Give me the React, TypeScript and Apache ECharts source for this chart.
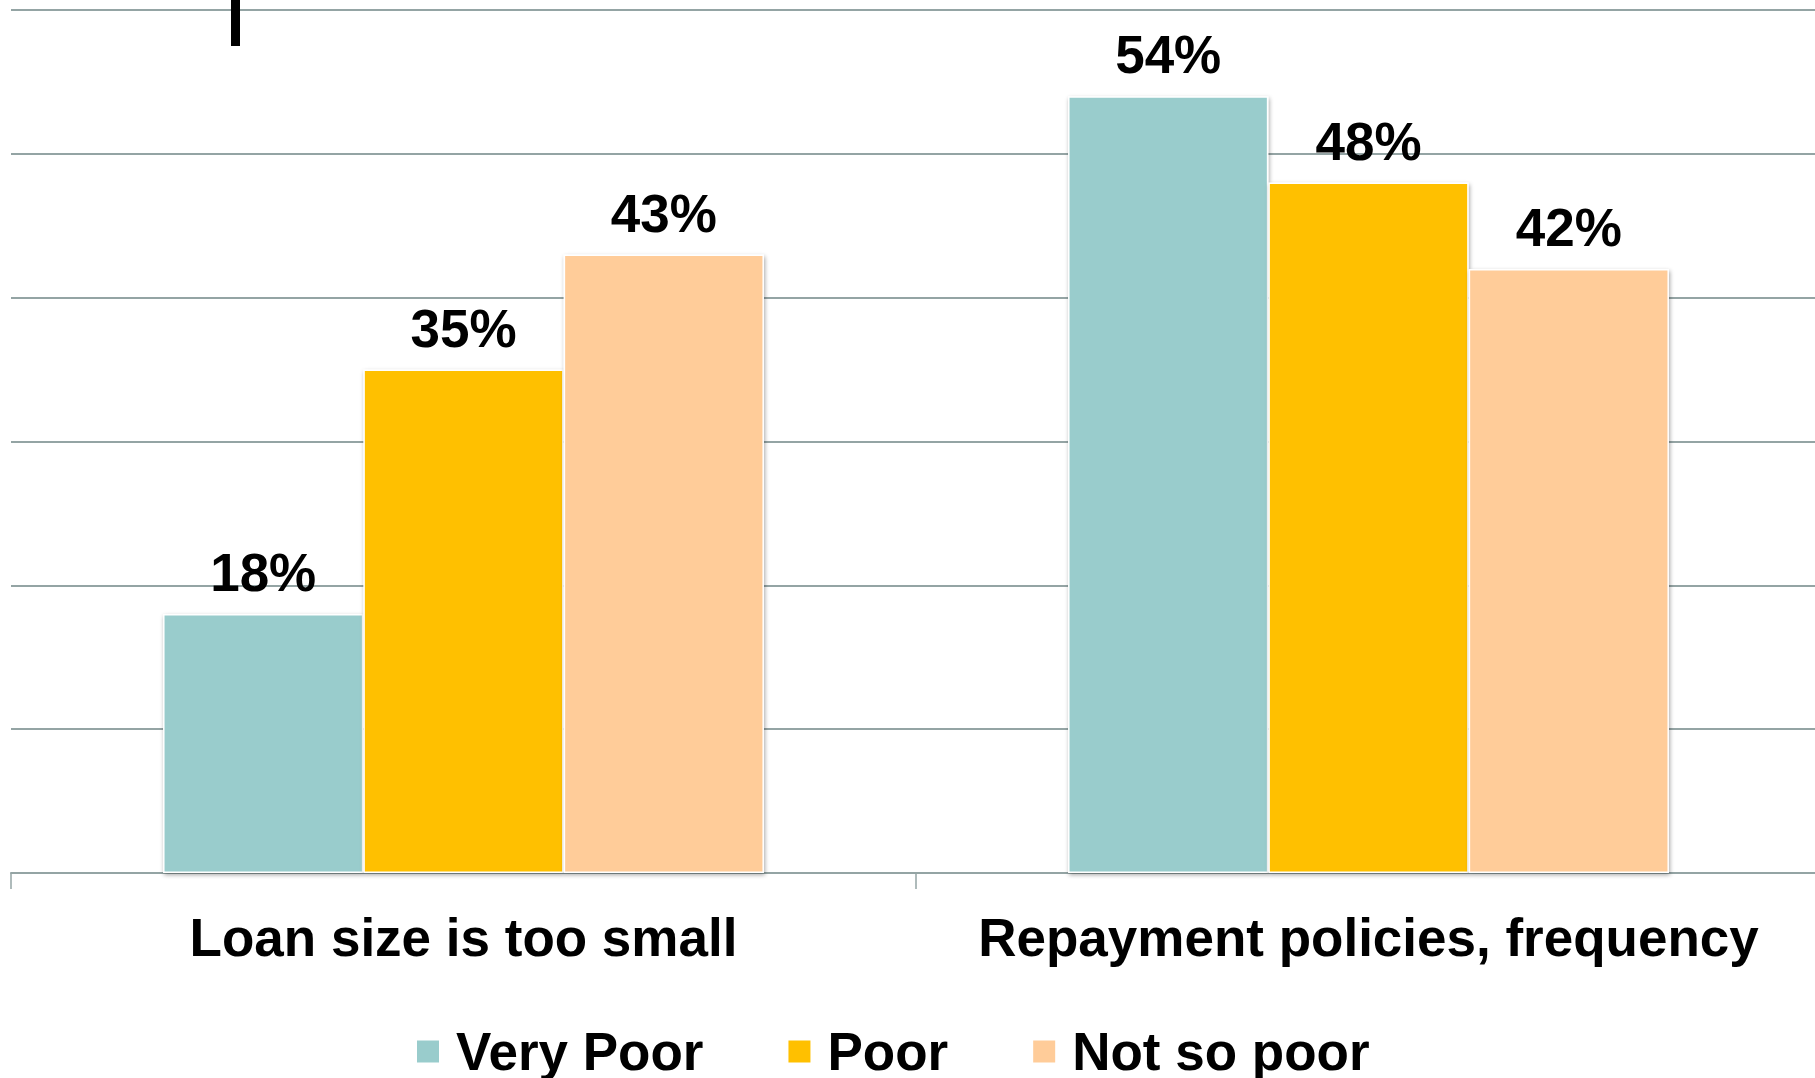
import React, { useEffect, useRef } from "react";
import * as echarts from "echarts";

const categories = ["Loan size is too small", "Repayment policies, frequency"];
const seriesNames = ["Very Poor", "Poor", "Not so poor"];
const veryPoor = [18, 54];
const poor = [35, 48];
const notSoPoor = [43, 42];
const colors = ["#99CCCC", "#FFC000", "#FFCC99"];

const FONT = "'Liberation Sans', Arial, sans-serif";

export default function App() {
  const ref = useRef<HTMLDivElement>(null);
  useEffect(() => {
    if (!ref.current) return;
    const chart = echarts.init(ref.current, null, { renderer: "svg" });
    const values = [veryPoor, poor, notSoPoor];
    chart.setOption({
      animation: false,
      backgroundColor: "#ffffff",
      grid: { left: 11, right: 9, top: 10, bottom: 205, containLabel: false },
      legend: {
        data: seriesNames,
        left: 410,
        top: 1020,
        icon: "rect",
        itemWidth: 24,
        itemHeight: 24,
        itemGap: 83,
        textStyle: {
          fontFamily: FONT,
          fontSize: 53,
          fontWeight: "bold",
          color: "#000",
          padding: [0, 0, 0, 11],
        },
      },
      xAxis: {
        type: "category",
        data: categories,
        axisLine: { show: true, lineStyle: { color: "#94A4A4", width: 2 } },
        axisTick: { show: true, length: 16, interval: 0, lineStyle: { color: "#94A4A4", width: 1.5 } },
        axisLabel: {
          interval: 0,
          margin: 38,
          fontFamily: FONT,
          fontSize: 53,
          fontWeight: "bold",
          color: "#000",
        },
      },
      yAxis: {
        type: "value",
        min: 0,
        max: 60,
        interval: 10,
        axisLabel: { show: false },
        axisLine: { show: false },
        axisTick: { show: false },
        splitLine: { show: true, lineStyle: { color: "#94A4A4", width: 2 } },
      },
      series: seriesNames.map((name, i) => ({
        name,
        type: "bar",
        data: values[i],
        barGap: "0%",
        barCategoryGap: "33.6%",
        itemStyle: {
          color: colors[i],
          borderColor: "#ffffff",
          borderWidth: 1.5,
          shadowColor: "rgba(0,0,0,0.35)",
          shadowBlur: 4,
          shadowOffsetX: 1,
          shadowOffsetY: 2,
        },
        label: {
          show: true,
          position: "top",
          distance: 15,
          formatter: "{c}%",
          fontFamily: FONT,
          fontSize: 53,
          fontWeight: "bold",
          color: "#000",
        },
      })),
      graphic: [
        {
          type: "rect",
          left: 231,
          top: 0,
          shape: { width: 9, height: 46 },
          style: { fill: "#000" },
          z: 100,
        },
      ],
    });
    return () => chart.dispose();
  }, []);
  return (
    <div style={{ position: "fixed", left: 0, top: 0, width: 1815, height: 1078, overflow: "hidden" }}>
      <div ref={ref} style={{ position: "absolute", left: 0, top: 0, width: 1830, height: 1078 }} />
    </div>
  );
}
